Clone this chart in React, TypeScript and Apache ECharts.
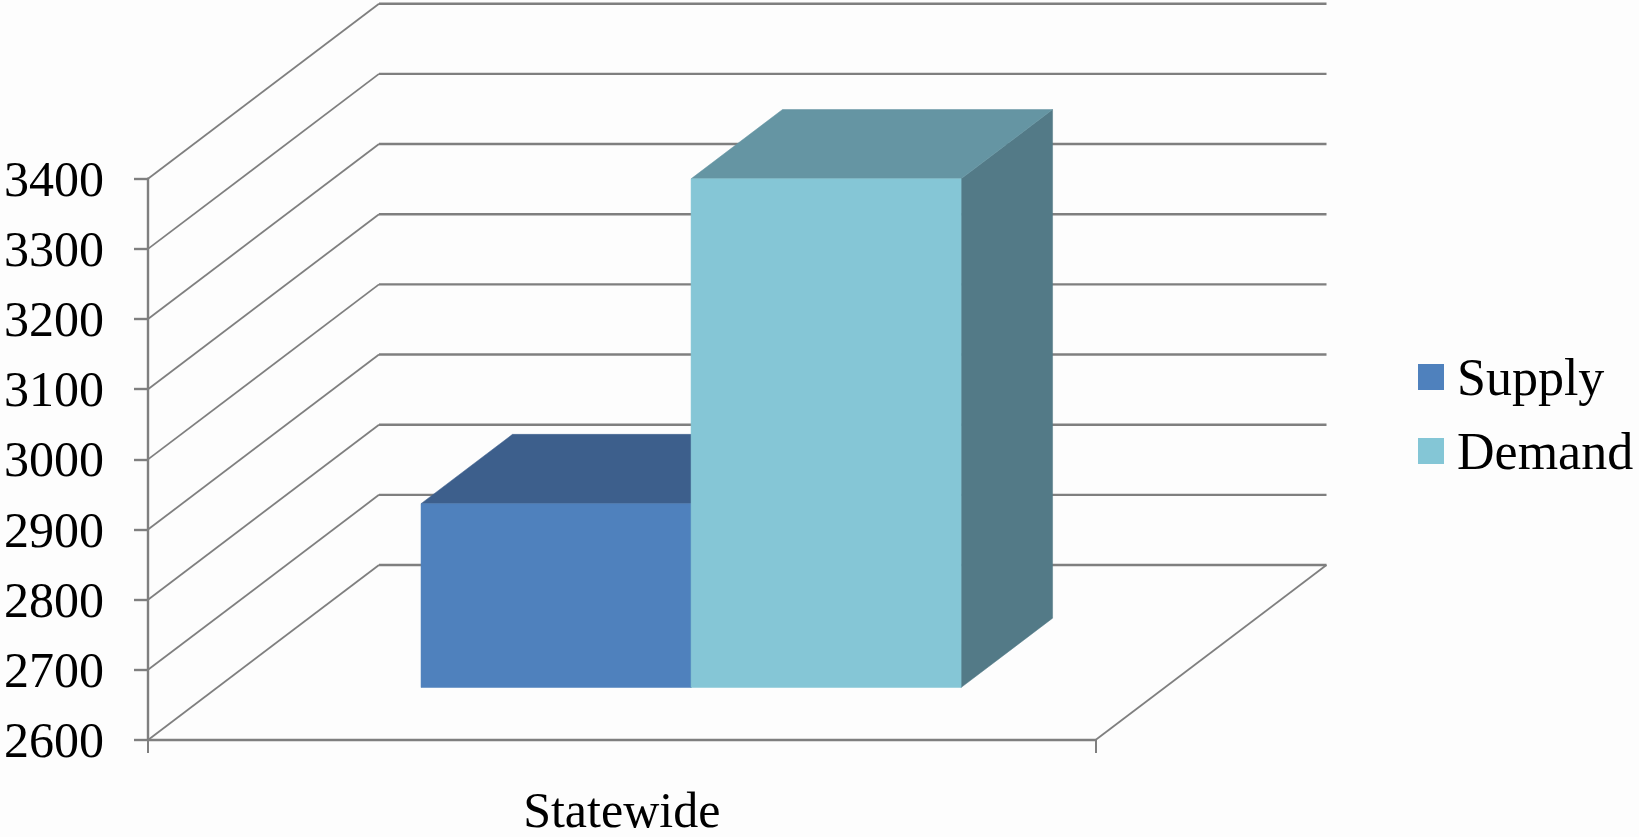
import React, { useEffect, useRef } from "react";
import * as echarts from "echarts";

const categories = ["Statewide"];
const seriesNames = ["Supply", "Demand"];
const supplyValues = [2862];
const demandValues = [3325];
const yTicks = [2600, 2700, 2800, 2900, 3000, 3100, 3200, 3300, 3400];

const FONT = "'Liberation Serif', serif";
const DX = 231;
const DY = 175;
const BAR_FRONT = 0.3;
const BAR_BACK = 0.696;
const BAR_FRACTION = 0.285;
const GRID_COLOR = "#7f7f7f";

function wallItem(params: any, api: any) {
  const cs = params.coordSys;
  const v = api.value(0);
  const p = api.coord([0, v]);
  const y = p[1];
  const left = cs.x;
  const right = cs.x + cs.width;
  const children: any[] = [
    {
      type: "line",
      shape: { x1: left, y1: y, x2: left + DX, y2: y - DY },
      style: { stroke: GRID_COLOR, lineWidth: 1.8, fill: "none" },
    },
    {
      type: "line",
      shape: { x1: left + DX, y1: y - DY, x2: right + DX, y2: y - DY },
      style: { stroke: GRID_COLOR, lineWidth: 2.4, fill: "none" },
    },
  ];
  if (v === yTicks[0]) {
    children.push({
      type: "line",
      shape: { x1: right, y1: y, x2: right + DX, y2: y - DY },
      style: { stroke: GRID_COLOR, lineWidth: 1.8, fill: "none" },
    });
  }
  return { type: "group", children };
}

function barItem(side: number, colors: string[]) {
  return (params: any, api: any) => {
    const center = api.coord([0, api.value(1)]);
    const base = api.coord([0, yTicks[0]]);
    const band = api.size([1, 0])[0];
    const w = band * BAR_FRACTION;
    const x0 = center[0] + (side < 0 ? -w : 0);
    const x1 = x0 + w;
    const top = center[1];
    const bot = base[1];
    const P = (x: number, y: number, d: number) => [x + d * DX, y - d * DY];
    const poly = (points: number[][], fill: string) => ({
      type: "polygon",
      shape: { points },
      style: { fill, stroke: fill, lineWidth: 0.5 },
    });
    return {
      type: "group",
      children: [
        poly([P(x1, bot, BAR_FRONT), P(x1, bot, BAR_BACK), P(x1, top, BAR_BACK), P(x1, top, BAR_FRONT)], colors[2]),
        poly([P(x0, top, BAR_FRONT), P(x0, top, BAR_BACK), P(x1, top, BAR_BACK), P(x1, top, BAR_FRONT)], colors[1]),
        poly([P(x0, bot, BAR_FRONT), P(x1, bot, BAR_FRONT), P(x1, top, BAR_FRONT), P(x0, top, BAR_FRONT)], colors[0]),
      ],
    };
  };
}

export default function App() {
  const ref = useRef<HTMLDivElement>(null);
  useEffect(() => {
    const chart = echarts.init(ref.current!, undefined, { renderer: "svg" });
    chart.setOption({
      animation: false,
      backgroundColor: "#fdfdfd",
      grid: { left: 148, right: 543.5, top: 178.7, bottom: 97, containLabel: false },
      legend: {
        orient: "vertical",
        left: 1413,
        top: 346,
        data: seriesNames,
        icon: "rect",
        itemWidth: 26,
        itemHeight: 26,
        itemGap: 22,
        textStyle: { fontFamily: FONT, fontSize: 52, color: "#000", padding: [0, 0, 0, 8] },
      },
      xAxis: {
        type: "category",
        data: categories,
        boundaryGap: true,
        axisLine: { lineStyle: { color: GRID_COLOR, width: 2.4 } },
        axisTick: { show: true, alignWithLabel: false, length: 13, lineStyle: { color: GRID_COLOR, width: 2 } },
        axisLabel: { fontFamily: FONT, fontSize: 50, lineHeight: 50, color: "#000", margin: 45 },
      },
      yAxis: {
        type: "value",
        min: 2600,
        max: 3400,
        interval: 100,
        splitLine: { show: false },
        axisLine: { show: true, lineStyle: { color: GRID_COLOR, width: 2.4 } },
        axisTick: { show: true, length: 14, lineStyle: { color: GRID_COLOR, width: 2.4 } },
        axisLabel: {
          fontFamily: FONT,
          fontSize: 50,
          color: "#000",
          margin: 44,
          formatter: (v: number) => String(v),
        },
      },
      series: [
        {
          type: "custom",
          name: "walls",
          data: yTicks.map((v) => [v]),
          encode: { y: 0 },
          renderItem: wallItem,
          silent: true,
          z: 1,
        },
        {
          type: "custom",
          name: "Supply",
          itemStyle: { color: "#4f81bd" },
          data: supplyValues.map((v, i) => [i, v]),
          encode: { x: 0, y: 1 },
          renderItem: barItem(-1, ["#4f81bd", "#3d5f8c", "#3a5a85"]),
          z: 2,
        },
        {
          type: "custom",
          name: "Demand",
          itemStyle: { color: "#84c6d6" },
          data: demandValues.map((v, i) => [i, v]),
          encode: { x: 0, y: 1 },
          renderItem: barItem(1, ["#85c6d6", "#6595a3", "#537a87"]),
          z: 3,
        },
      ],
    });
    return () => chart.dispose();
  }, []);
  return <div ref={ref} style={{ position: "fixed", left: 0, top: 0, width: 1639, height: 837 }} />;
}
